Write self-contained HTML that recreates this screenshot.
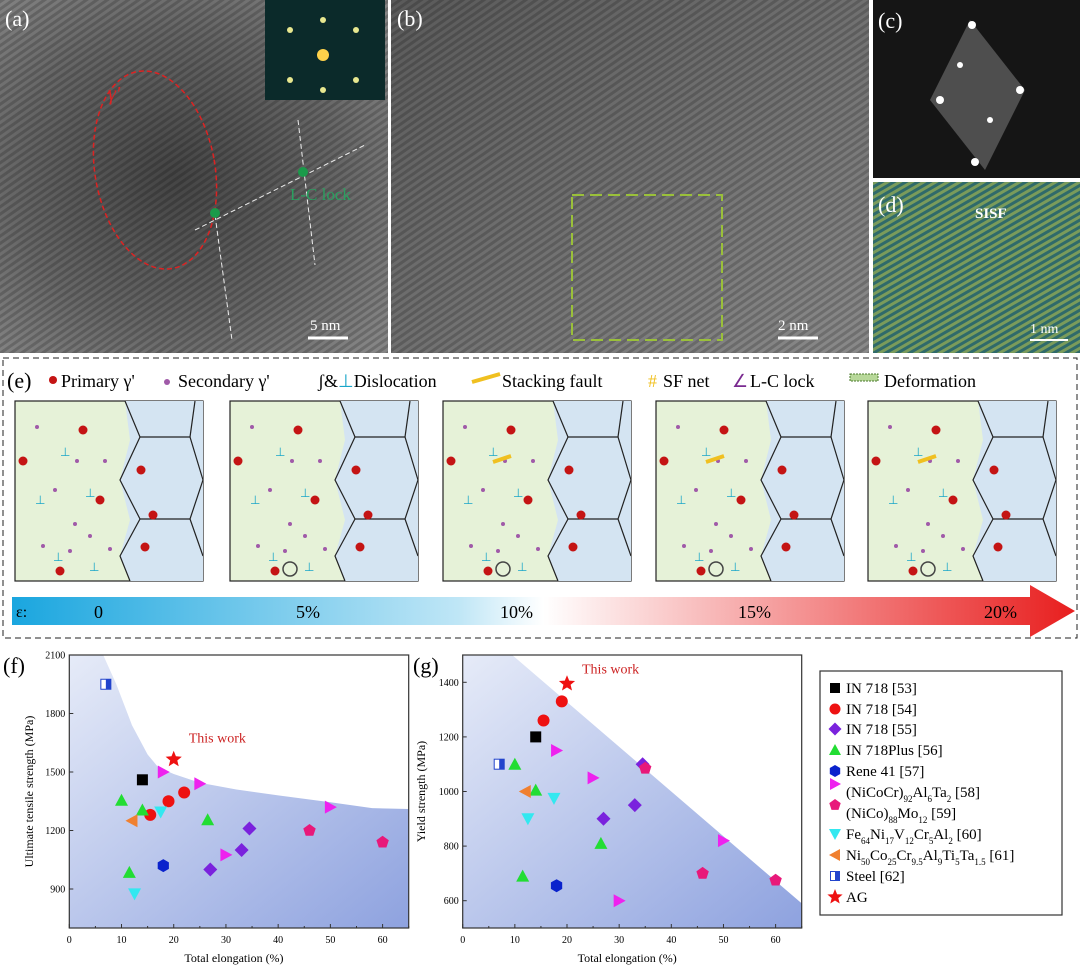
<!DOCTYPE html>
<html><head><meta charset="utf-8"><style>
body{margin:0;background:#fff;font-family:"Liberation Serif",serif}
svg text{font-family:"Liberation Serif",serif}
</style></head><body>
<svg id="root" width="1080" height="970" viewBox="0 0 1080 970" xmlns="http://www.w3.org/2000/svg">
<defs>
<radialGradient id="micA" cx="0.45" cy="0.5" r="0.7"><stop offset="0" stop-color="#444"/><stop offset="0.6" stop-color="#666"/><stop offset="1" stop-color="#858585"/></radialGradient>
<linearGradient id="micB" x1="0" y1="0" x2="1" y2="1"><stop offset="0" stop-color="#5a5a5a"/><stop offset="0.5" stop-color="#707070"/><stop offset="1" stop-color="#8a8a8a"/></linearGradient>
<pattern id="lat" width="6" height="6" patternUnits="userSpaceOnUse" patternTransform="rotate(-35)"><rect width="6" height="3" fill="#000" opacity="0.18"/></pattern>
<pattern id="latD" width="6" height="6" patternUnits="userSpaceOnUse" patternTransform="rotate(-30)"><rect width="6" height="3" fill="#d6d84a" opacity="0.45"/></pattern>
<linearGradient id="strain" x1="0" x2="1"><stop offset="0" stop-color="#1aa6df"/><stop offset="0.42" stop-color="#bfe6f6"/><stop offset="0.5" stop-color="#ffffff"/><stop offset="0.7" stop-color="#f6a6a6"/><stop offset="1" stop-color="#e81e1e"/></linearGradient>
<linearGradient id="shadeF" x1="0" y1="0" x2="1" y2="1"><stop offset="0" stop-color="#e6ebf8"/><stop offset="1" stop-color="#8ea2df"/></linearGradient>
<linearGradient id="shadeG" x1="0" y1="0" x2="1" y2="1"><stop offset="0" stop-color="#e6ebf8"/><stop offset="1" stop-color="#8ea2df"/></linearGradient>
</defs>

<!-- (a) -->
<g>
<rect x="0" y="0" width="388" height="353" fill="url(#micA)"/>
<rect x="0" y="0" width="388" height="353" fill="url(#lat)"/>
<ellipse cx="155" cy="170" rx="60" ry="100" fill="none" stroke="#d22" stroke-width="1.5" stroke-dasharray="5,3" transform="rotate(-10 155 170)"/>
<text x="108" y="100" fill="#d22" font-size="20" font-style="italic">γ'</text>
<line x1="195" y1="230" x2="365" y2="145" stroke="#eee" stroke-dasharray="5,3"/>
<line x1="215" y1="215" x2="232" y2="340" stroke="#eee" stroke-dasharray="5,3"/>
<line x1="298" y1="120" x2="315" y2="265" stroke="#eee" stroke-dasharray="5,3"/>
<circle cx="215" cy="213" r="5" fill="#1a9a4a"/><circle cx="303" cy="172" r="5" fill="#1a9a4a"/>
<text x="290" y="200" fill="#2aa060" font-size="17">L-C lock</text>
<rect x="265" y="0" width="120" height="100" fill="#0b2a2a"/>
<g fill="#e8e890"><circle cx="323" cy="55" r="6" fill="#ffd24a"/><circle cx="290" cy="30" r="3"/><circle cx="356" cy="30" r="3"/><circle cx="290" cy="80" r="3"/><circle cx="356" cy="80" r="3"/><circle cx="323" cy="20" r="3"/><circle cx="323" cy="90" r="3"/></g>
<text x="5" y="26" fill="#fff" font-size="22">(a)</text>
<line x1="308" y1="338" x2="348" y2="338" stroke="#fff" stroke-width="3"/>
<text x="310" y="330" fill="#fff" font-size="15">5 nm</text>
</g>
<!-- (b) -->
<g>
<rect x="391" y="0" width="478" height="353" fill="url(#micB)"/>
<rect x="391" y="0" width="478" height="353" fill="url(#lat)"/>
<rect x="572" y="195" width="150" height="145" fill="none" stroke="#9ac03a" stroke-width="2" stroke-dasharray="12,6"/>
<text x="397" y="26" fill="#fff" font-size="22">(b)</text>
<line x1="778" y1="338" x2="818" y2="338" stroke="#fff" stroke-width="3"/>
<text x="778" y="330" fill="#fff" font-size="15">2 nm</text>
</g>
<!-- (c) -->
<g>
<rect x="873" y="0" width="207" height="178" fill="#151515"/>
<polygon points="970,20 1025,90 985,170 930,100" fill="#666" opacity="0.7"/>
<g fill="#fff"><circle cx="972" cy="25" r="4"/><circle cx="975" cy="162" r="4"/><circle cx="940" cy="100" r="4"/><circle cx="1020" cy="90" r="4"/><circle cx="960" cy="65" r="3"/><circle cx="990" cy="120" r="3"/></g>
<text x="878" y="28" fill="#fff" font-size="22">(c)</text>
</g>
<!-- (d) -->
<g>
<rect x="873" y="182" width="207" height="171" fill="#2f6a6a"/>
<rect x="873" y="182" width="207" height="171" fill="url(#latD)"/>
<text x="878" y="212" fill="#fff" font-size="22">(d)</text>
<text x="975" y="218" fill="#fff" font-size="15" font-weight="bold" font-family="Liberation Sans">SISF</text>
<line x1="1030" y1="340" x2="1068" y2="340" stroke="#fff" stroke-width="2"/>
<text x="1030" y="333" fill="#fff" font-size="14">1 nm</text>
</g>

<!-- (e) -->
<g>
<rect x="3" y="358" width="1074" height="280" fill="none" stroke="#222" stroke-dasharray="6,4"/>
<text x="7" y="388" font-size="22">(e)</text>
<circle cx="53" cy="380" r="4" fill="#c41414"/><text x="61" y="387" font-size="18">Primary γ'</text>
<circle cx="167" cy="382" r="3" fill="#a05aa8"/><text x="178" y="387" font-size="18">Secondary γ'</text>
<text x="318" y="387" font-size="18">ʃ&amp;<tspan fill="#1aa6c9">⊥</tspan>Dislocation</text>
<line x1="472" y1="382" x2="500" y2="374" stroke="#f0c020" stroke-width="4"/><text x="502" y="387" font-size="18">Stacking fault</text>
<text x="648" y="387" font-size="18" fill="#f0c020">#</text><text x="663" y="387" font-size="18">SF net</text>
<text x="732" y="387" font-size="18" fill="#7a2a90">∠</text><text x="750" y="387" font-size="18">L-C lock</text>
<rect x="850" y="374" width="28" height="7" fill="#b8d89a" stroke="#4a7a2a" stroke-dasharray="2,1"/><text x="884" y="387" font-size="18">Deformation</text>
<g id="sch"></g>
<polygon points="12,597 1030,597 1030,585 1075,611 1030,637 1030,625 12,625" fill="url(#strain)"/>
<text x="16" y="617" font-size="16">ε:</text>
<text x="94" y="618" font-size="18">0</text>
<text x="296" y="618" font-size="18">5%</text>
<text x="500" y="618" font-size="18">10%</text>
<text x="738" y="618" font-size="18">15%</text>
<text x="984" y="618" font-size="18">20%</text>
</g>

<g id="chartF"></g>
<g id="chartG"></g>

<!-- legend -->
<g>
<rect x="820" y="671" width="242" height="244" fill="#fff" stroke="#333" stroke-width="1.2"/>
<g id="legendItems"></g>
</g>
</svg>
<script>
const NS="http://www.w3.org/2000/svg";
function mk(tag,attrs,parent){const e=document.createElementNS(NS,tag);for(const k in attrs)e.setAttribute(k,attrs[k]);parent.appendChild(e);return e;}

// schematic panels
const sch=document.getElementById('sch');
const panelX=[15,230,443,656,868];
panelX.forEach((px,i)=>{
  const g=mk('g',{},sch);
  
  
  mk('rect',{x:px,y:401,width:188,height:180,fill:'#e6f2d8',stroke:'#222','stroke-width':1.2},g);
  const bx=px+110;
  mk('polygon',{points:`${bx},401 ${px+188},401 ${px+188},581 ${bx+5},581 ${bx-5},556 ${bx+5},520 ${bx-5},480 ${bx+5},440`,fill:'#d4e4f2'},g);
  mk('polyline',{points:`${bx},401 ${bx+15},437 ${bx-5},480 ${bx+15},519 ${bx-5},556 ${bx+5},581`,fill:'none',stroke:'#222','stroke-width':1.2},g);
  mk('polyline',{points:`${bx+15},437 ${bx+65},437 ${px+188},480 ${bx+65},519 ${px+188},556`,fill:'none',stroke:'#222','stroke-width':1.2},g);
  mk('line',{x1:bx+15,y1:519,x2:bx+65,y2:519,stroke:'#222','stroke-width':1.2},g);
  mk('line',{x1:bx+65,y1:437,x2:px+180,y2:401,stroke:'#222','stroke-width':1.2},g);
  [[68,29],[8,60],[85,99],[126,69],[130,146],[45,170],[138,114]].forEach(p=>mk('circle',{cx:px+p[0],cy:401+p[1],r:4.5,fill:'#c41414'},g));
  [[22,26],[62,60],[90,60],[40,89],[60,123],[28,145],[75,135],[95,148],[55,150]].forEach(p=>mk('circle',{cx:px+p[0],cy:401+p[1],r:2,fill:'#a05aa8'},g));
  [[45,55],[20,103],[70,96],[38,160],[74,170]].forEach(p=>mk('text',{x:px+p[0],y:401+p[1],'font-size':12,fill:'#1aa6c9'},g).textContent='⊥');
  if(i>=2){mk('line',{x1:px+50,y1:462,x2:px+68,y2:456,stroke:'#f0c020','stroke-width':4},g);}
  if(i>=1){mk('circle',{cx:px+60,cy:569,r:7,fill:'none',stroke:'#444','stroke-width':1.5},g);}
});

// ===== chart data =====
const seriesNames=["IN 718 [53]","IN 718 [54]","IN 718 [55]","IN 718Plus [56]","Rene 41 [57]","(NiCoCr)92Al6Ta2 [58]","(NiCo)88Mo12 [59]","Fe64Ni17V12Cr5Al2 [60]","Ni50Co25Cr9.5Al9Ti5Ta1.5 [61]","Steel [62]","AG"];
const seriesShapes=["square","circle","diamond","up","hex","right","pent","down","left","steel","star"];
const seriesColors=["#000","#ee1111","#7a22dd","#22dd33","#0a22cc","#ee22ee","#e8187a","#33e8f0","#f08030","#2244cc","#ee1111"];
const utsElong=[[14],[15.5,19,22],[27,33,34.5],[10,14,26.5,11.5],[18],[18,25,30,50],[46,60],[17.5,12.5],[12],[7],[20]];
const utsVal=[[1460],[1280,1350,1395],[1000,1100,1210],[1355,1305,1255,985],[1020],[1500,1440,1075,1320],[1200,1140],[1295,875],[1250],[1950],[1565]];
const ysElong=[[14],[15.5,19],[34.5,33,27],[10,14,26.5,11.5],[18],[18,25,50,30],[35,46,60],[17.5,12.5],[12],[7],[20]];
const ysVal=[[1200],[1260,1330],[1100,950,900],[1100,1005,810,690],[655],[1150,1050,820,600],[1085,700,675],[975,900],[1000],[1100],[1395]];
const xTicks=[0,10,20,30,40,50,60];
const utsTicks=[900,1200,1500,1800,2100];
const ysTicks=[600,800,1000,1200,1400];
const utsBoundX=[6.5,9,12,15,17,20,25,32,40,50,58,65];
const utsBoundY=[2100,1950,1740,1590,1525,1490,1445,1410,1380,1345,1315,1310];
const ysBoundX=[9.5,65];
const ysBoundY=[1500,590];

function marker(parent,shape,color,cx,cy,s){
  let e;
  if(shape==='square') e=mk('rect',{x:cx-s,y:cy-s,width:2*s,height:2*s,fill:color},parent);
  else if(shape==='circle') e=mk('circle',{cx,cy,r:s+0.5,fill:color},parent);
  else if(shape==='diamond') e=mk('polygon',{points:`${cx},${cy-s-1.5} ${cx+s+1.5},${cy} ${cx},${cy+s+1.5} ${cx-s-1.5},${cy}`,fill:color},parent);
  else if(shape==='up') e=mk('polygon',{points:`${cx},${cy-s-1} ${cx+s+1},${cy+s} ${cx-s-1},${cy+s}`,fill:color},parent);
  else if(shape==='down') e=mk('polygon',{points:`${cx},${cy+s+1} ${cx+s+1},${cy-s} ${cx-s-1},${cy-s}`,fill:color},parent);
  else if(shape==='right') e=mk('polygon',{points:`${cx+s+1},${cy} ${cx-s},${cy-s-1} ${cx-s},${cy+s+1}`,fill:color},parent);
  else if(shape==='left') e=mk('polygon',{points:`${cx-s-1},${cy} ${cx+s},${cy-s-1} ${cx+s},${cy+s+1}`,fill:color},parent);
  else if(shape==='hex'||shape==='pent'){const n=shape==='hex'?6:5;let p=[];for(let k=0;k<n;k++){const a=-Math.PI/2+k*2*Math.PI/n;p.push((cx+(s+1)*Math.cos(a)).toFixed(1)+','+(cy+(s+1)*Math.sin(a)).toFixed(1));}e=mk('polygon',{points:p.join(' '),fill:color},parent);}
  else if(shape==='steel'){e=mk('g',{},parent);mk('rect',{x:cx-s+0.5,y:cy-s+0.5,width:2*s-1,height:2*s-1,fill:'#fff',stroke:color},e);mk('rect',{x:cx,y:cy-s+0.5,width:s-0.5,height:2*s-1,fill:color},e);}
  else if(shape==='star'){let p=[];for(let k=0;k<10;k++){const r=k%2?s*0.5+1:s+3;const a=-Math.PI/2+k*Math.PI/5;p.push((cx+r*Math.cos(a)).toFixed(1)+','+(cy+r*Math.sin(a)).toFixed(1));}e=mk('polygon',{points:p.join(' '),fill:color},parent);}
  return e;
}

function drawChart(gid,cfg){
  const g=document.getElementById(gid);
  const {L,R,T,B,xmin,xmax,ymin,ymax}=cfg;
  const X=v=>L+(v-xmin)/(xmax-xmin)*(R-L);
  const Y=v=>B-(v-ymin)/(ymax-ymin)*(B-T);
  mk('rect',{x:L,y:T,width:R-L,height:B-T,fill:'url(#'+cfg.shade+')'},g);
  let pts=[`${L},${T}`];
  cfg.bx.forEach((v,i)=>pts.push(X(v).toFixed(1)+','+Y(cfg.by[i]).toFixed(1)));
  pts.push(`${R},${T}`);
  const wr=mk('polygon',{points:pts.join(' '),fill:'#fff'},g);
  
  
  mk('rect',{x:L,y:T,width:R-L,height:B-T,fill:'none',stroke:'#333','stroke-width':1.2},g);
  xTicks.forEach(t=>{mk('line',{x1:X(t),y1:B,x2:X(t),y2:B-4,stroke:'#333'},g);
    const tx=mk('text',{x:X(t),y:B+15,'font-size':10,'text-anchor':'middle'},g);tx.textContent=t;
    
    
    if(t+5<=xmax)mk('line',{x1:X(t+5),y1:B,x2:X(t+5),y2:B-2,stroke:'#333'},g);});
  cfg.yt.forEach(t=>{mk('line',{x1:L,y1:Y(t),x2:L+4,y2:Y(t),stroke:'#333'},g);
    const tx=mk('text',{x:L-4,y:Y(t)+3.5,'font-size':10,'text-anchor':'end'},g);tx.textContent=t;
    
    });
  const xt=mk('text',{x:(L+R)/2-5,y:B+34,'font-size':12,'text-anchor':'middle'},g);xt.textContent='Total elongation (%)';
  
  
  const yt=mk('text',{x:0,y:0,'font-size':12,'text-anchor':'middle',transform:`translate(${cfg.ytx},${(T+B)/2}) rotate(-90)`},g);yt.textContent=cfg.ytitle;
  
  
  const pl=mk('text',{x:cfg.plx,y:T+18,'font-size':22},g);pl.textContent=cfg.plabel;
  
  
  cfg.ex.forEach((arr,si)=>{arr.forEach((v,j)=>{
    const m=marker(g,seriesShapes[si],seriesColors[si],X(v),Y(cfg.ev[si][j]),5.5);
    
    
  });});
  const ag=cfg.ex[10][0], agv=cfg.ev[10][0];
  const tw=mk('text',{x:X(ag)+cfg.twdx,y:Y(agv)+cfg.twdy,'font-size':14,fill:'#cc2222'},g);tw.textContent='This work';
  
  
}
drawChart('chartF',{L:69.3,R:408.7,T:655,B:928,xmin:0,xmax:65,ymin:700,ymax:2100,shade:'shadeF',bx:utsBoundX,by:utsBoundY,yt:utsTicks,ytitle:'Ultimate tensile strength (MPa)',ytx:33,plx:3,plabel:'(f)',ex:utsElong,ev:utsVal,twdx:15,twdy:-17});
drawChart('chartG',{L:462.7,R:801.7,T:655,B:928,xmin:0,xmax:65,ymin:500,ymax:1500,shade:'shadeG',bx:ysBoundX,by:ysBoundY,yt:ysTicks,ytitle:'Yield strength (MPa)',ytx:425,plx:413,plabel:'(g)',ex:ysElong,ev:ysVal,twdx:15,twdy:-10});

// legend
const li=document.getElementById('legendItems');
const legY=[688,709,729,750,771,792,813,834,855,876,897];
const legHTML=["IN 718 [53]","IN 718 [54]","IN 718 [55]","IN 718Plus [56]","Rene 41 [57]",
 "(NiCoCr)<tspan baseline-shift='sub' font-size='9'>92</tspan>Al<tspan baseline-shift='sub' font-size='9'>6</tspan>Ta<tspan baseline-shift='sub' font-size='9'>2</tspan> [58]",
 "(NiCo)<tspan baseline-shift='sub' font-size='9'>88</tspan>Mo<tspan baseline-shift='sub' font-size='9'>12</tspan> [59]",
 "Fe<tspan baseline-shift='sub' font-size='9'>64</tspan>Ni<tspan baseline-shift='sub' font-size='9'>17</tspan>V<tspan baseline-shift='sub' font-size='9'>12</tspan>Cr<tspan baseline-shift='sub' font-size='9'>5</tspan>Al<tspan baseline-shift='sub' font-size='9'>2</tspan> [60]",
 "Ni<tspan baseline-shift='sub' font-size='9'>50</tspan>Co<tspan baseline-shift='sub' font-size='9'>25</tspan>Cr<tspan baseline-shift='sub' font-size='9'>9.5</tspan>Al<tspan baseline-shift='sub' font-size='9'>9</tspan>Ti<tspan baseline-shift='sub' font-size='9'>5</tspan>Ta<tspan baseline-shift='sub' font-size='9'>1.5</tspan> [61]",
 "Steel [62]","AG"];
seriesNames.forEach((n,i)=>{
  const e=mk('g',{},li);
  
  
  const my=(i===5||i===6)?legY[i]-8:legY[i];
  marker(e,seriesShapes[i],seriesColors[i],835,my,5);
  const t=mk('text',{x:846,y:legY[i]+5,'font-size':15},e);
  t.innerHTML=legHTML[i];
});
</script>
</body></html>
